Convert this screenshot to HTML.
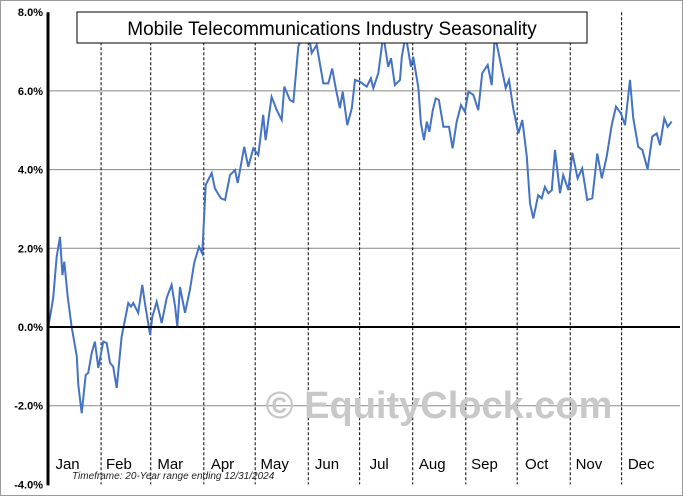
<!DOCTYPE html>
<html><head><meta charset="utf-8"><style>
body{margin:0;background:#fff;}
svg{display:block;font-family:"Liberation Sans",sans-serif;}
</style></head><body>
<svg id="chart" width="683" height="496" viewBox="0 0 683 496">
<rect x="0.5" y="0.5" width="682" height="495" fill="#fff" stroke="#999"/>
<g id="grid"></g>
<text x="439" y="418" font-size="38" font-weight="bold" fill="#c8c8c8" text-anchor="middle">© EquityClock.com</text>
<g id="months"></g>
<path id="line" fill="none" stroke="#4472c4" stroke-width="2"/>
<g id="axes"></g>
<rect x="77" y="12" width="510" height="31" fill="#fff" stroke="#000"/>
<text x="332" y="35" font-size="19" text-anchor="middle" fill="#000">Mobile Telecommunications Industry Seasonality</text>
<text x="72" y="479" font-size="10" font-style="italic" fill="#222">Timeframe: 20-Year range ending 12/31/2024</text>
</svg>
<script>
const monthLabels=["Jan","Feb","Mar","Apr","May","Jun","Jul","Aug","Sep","Oct","Nov","Dec"];
const monthEnds=[31,60,91,121,152,182,213,244,274,305,335,366];
const yTicks=[8,6,4,2,0,-2,-4];
const yTickLabels=["8.0%","6.0%","4.0%","2.0%","0.0%","-2.0%","-4.0%"];
const days=[0.2,2.2,3.1,5.1,7.0,8.4,9.5,11.5,13.8,16.8,17.7,19.7,22.0,23.5,25.5,27.4,29.4,32.3,34.3,36.2,38.1,40.1,43.0,46.9,48.5,49.8,52.7,55.1,56.6,59.6,60.9,63.5,66.4,69.3,72.2,74.2,75.5,77.1,80.0,82.9,85.4,88.2,90.1,92.1,95.6,97.5,101.0,103.4,106.3,109.2,110.8,114.6,117.0,119.9,122.8,125.7,127.1,130.6,133.6,136.5,138.0,141.3,143.3,146.2,149.1,153.0,154.0,156.9,160.8,163.7,166.0,168.0,170.5,172.1,174.8,177.4,179.3,182.2,186.1,188.6,190.0,192.9,195.8,198.7,200.3,202.6,205.6,206.6,208.9,210.5,212.0,213.3,216.3,217.8,219.6,221.2,222.7,224.7,226.4,228.3,230.9,234.2,236.3,238.7,241.2,243.5,245.5,248.4,251.3,253.6,256.8,259.1,261.0,263.4,267.3,269.2,271.7,274.7,277.0,279.6,281.5,283.4,286.3,288.3,290.2,292.2,294.2,296.1,299.0,300.9,303.9,306.2,309.3,312.0,314.9,317.9,320.8,323.4,326.3,329.2,331.7,334.6,337.0,339.9,341.8,344.7,347.1,350.2,352.9,355.5,357.4,359.9,361.9,364.2];
const values=[0.01,0.52,0.77,1.79,2.29,1.32,1.66,0.77,0.01,-0.75,-1.47,-2.19,-1.22,-1.17,-0.66,-0.37,-1.04,-0.37,-0.41,-0.91,-1.01,-1.55,-0.25,0.61,0.52,0.61,0.36,1.07,0.61,-0.20,0.26,0.64,0.10,0.74,1.07,0.52,0.01,1.02,0.36,0.94,1.63,2.04,1.87,3.61,3.91,3.52,3.27,3.23,3.86,3.99,3.66,4.58,4.07,4.54,4.37,5.39,4.75,5.85,5.51,5.26,6.11,5.77,5.72,7.12,7.5,7.22,6.96,7.17,6.19,6.19,6.57,6.07,5.56,5.98,5.13,5.56,6.28,6.23,6.11,6.32,6.07,6.45,7.42,6.61,6.83,6.15,6.28,6.87,7.42,7.00,6.61,6.87,6.07,5.18,4.75,5.22,4.96,5.51,5.81,5.77,5.09,5.09,4.54,5.22,5.64,5.47,5.98,5.90,5.51,6.45,6.66,6.15,7.42,6.91,6.07,6.28,5.56,4.92,5.26,4.33,3.14,2.76,3.35,3.27,3.56,3.40,3.48,4.50,3.40,3.86,3.48,4.43,3.78,4.03,3.23,3.27,4.41,3.78,4.33,5.13,5.60,5.43,5.13,6.28,5.30,4.58,4.50,4.01,4.84,4.92,4.62,5.30,5.09,5.22];

const X0=48,PXD=1.7123,Y0=327,PXV=39.35;
const xs=d=>X0+d*PXD, ys=v=>Y0-v*PXV;
const NS='http://www.w3.org/2000/svg';
function mk(tag,attrs,parent){const e=document.createElementNS(NS,tag);for(const k in attrs)e.setAttribute(k,attrs[k]);parent.appendChild(e);return e;}
const grid=document.getElementById('grid'),axes=document.getElementById('axes'),months=document.getElementById('months');
yTicks.forEach((v,i)=>{
  if(v!==0&&v!==8&&v!==-4){const l=mk('line',{x1:X0,x2:680,y1:ys(v),y2:ys(v),stroke:'#888','stroke-width':1},grid);
  
  }
  const t=mk('text',{x:43,y:ys(v)+4,'font-size':11,'font-weight':'bold','text-anchor':'end',fill:'#000'},axes);
  t.textContent=yTickLabels[i];
  
  
});
let prev=0;
monthEnds.forEach((e,i)=>{
  if(i<11){const l=mk('line',{x1:xs(e),x2:xs(e),y1:ys(8),y2:ys(-4),stroke:'#000','stroke-width':1,'stroke-dasharray':'3,2'},grid);
  
  }
  const t=mk('text',{x:xs((prev+e)/2)-7,y:469,'font-size':15,'text-anchor':'middle',fill:'#000'},months);
  t.textContent=monthLabels[i];
  
  
  prev=e;
});
const line=document.getElementById('line');
line.setAttribute('d',days.map((d,i)=>(i?'L':'M')+xs(d).toFixed(1)+' '+ys(values[i]).toFixed(1)).join(''));
const za=mk('line',{x1:X0,x2:680,y1:ys(0),y2:ys(0),stroke:'#000','stroke-width':2},axes);


const ya=mk('line',{x1:X0,x2:X0,y1:ys(8),y2:ys(-4)+1,stroke:'#000','stroke-width':3},axes);


</script>
</body></html>
